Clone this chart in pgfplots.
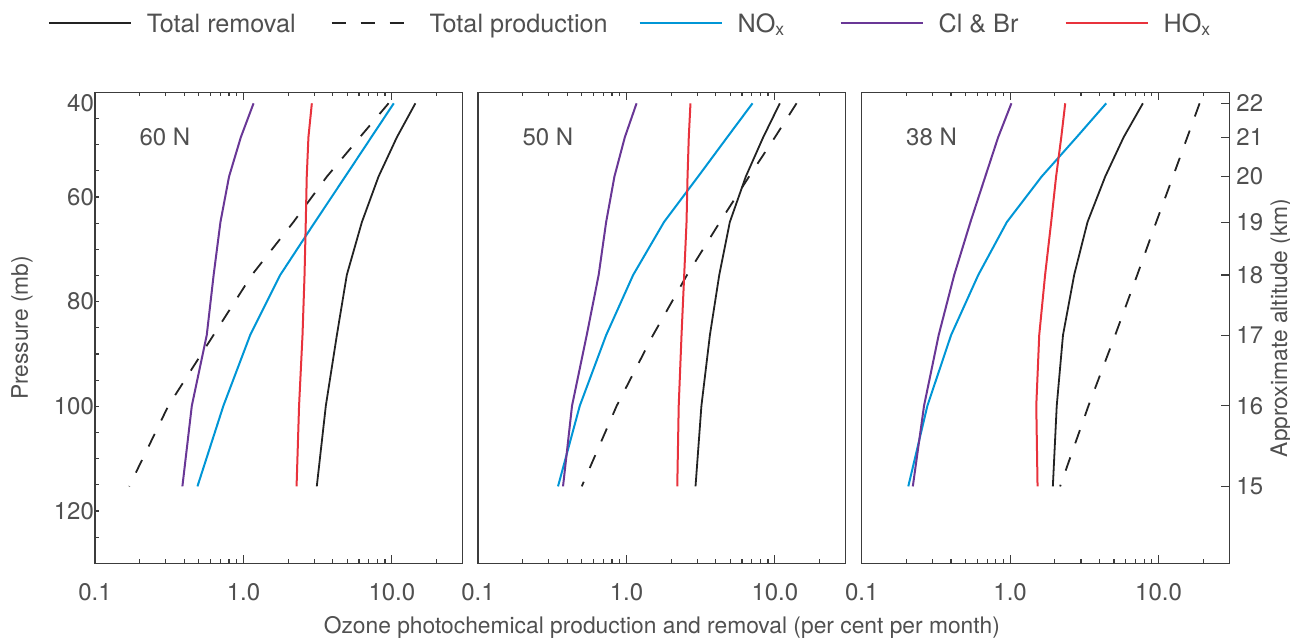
\documentclass[border=0pt]{standalone}
\usepackage{fontspec}
\setmainfont{TeX Gyre Heros}
\usepackage{pgfplots}
\usepackage{pgfplotstable}
\pgfplotsset{compat=1.18}
\pgfkeys{/pgf/number format/assume math mode=true}
\definecolor{txt}{RGB}{80,80,80}
\definecolor{frm}{RGB}{60,60,60}
\definecolor{cblue}{RGB}{0,150,214}
\definecolor{cpurple}{RGB}{105,55,150}
\definecolor{cred}{RGB}{232,50,60}
\definecolor{cblack}{RGB}{35,35,35}
\newcommand\fs{\fontsize{12}{14.4}\selectfont}
\newcommand\fl{\fontsize{11.4}{13.7}\selectfont}
\newcommand\fg{\fontsize{12.6}{15}\selectfont}

% p in mb; levels ~ 22,21,...,15 km
\pgfplotstableread{
p     rem   prod   nox    clbr   hox
42.1  14.4  9.5    10.3   1.17   2.89
48.6  10.8  6.08   7.26   0.96   2.74
56.1  8.13  3.65   4.85   0.80   2.67
64.8  6.28  2.17   3.03   0.70   2.63
74.9  4.97  1.14   1.77   0.63   2.58
86.4  4.26  0.628  1.11   0.566  2.50
99.9  3.59  0.312  0.733  0.449  2.37
115.3 3.12  0.170  0.49   0.388  2.28
}\sixty
\pgfplotstableread{
p     rem   prod   nox    clbr   hox
42.1  10.8  14.0   7.07   1.17   2.70
48.6  8.34  10.0   4.77   0.975  2.63
56.1  6.37  6.7    3.04   0.83   2.58
64.8  4.97  4.26   1.79   0.73   2.54
74.9  4.22  2.56   1.11   0.65   2.45
86.4  3.65  1.51   0.73   0.54   2.35
99.9  3.20  0.86   0.485  0.43   2.25
115.3 2.92  0.50   0.346  0.374  2.20
}\fifty
\pgfplotstableread{
p     rem   prod   nox    clbr   hox
42.1  7.84  18.9   4.44   1.02   2.35
48.6  5.81  15.6   2.80   0.83   2.21
56.1  4.37  12.5   1.63   0.68   2.04
64.8  3.32  9.64   0.95   0.54   1.89
74.9  2.70  7.18   0.61   0.42   1.72
86.4  2.27  5.10   0.40   0.33   1.57
99.9  2.06  3.37   0.277  0.263  1.50
115.3 1.94  2.17   0.206  0.221  1.53
}\thirtyeight

\tikzset{
  lrem/.style={draw=cblack, line width=0.9pt},
  lprod/.style={draw=cblack, line width=0.9pt, dash pattern=on 7pt off 7.5pt},
  lnox/.style={draw=cblue, line width=1pt},
  lclbr/.style={draw=cpurple, line width=1pt},
  lhox/.style={draw=cred, line width=1pt},
}

\begin{document}
\begin{tikzpicture}
\path[use as bounding box] (0,0) rectangle (645pt,319pt);

% ---- 60 N ----
\begin{semilogxaxis}[
  scale only axis, width=183.85pt, height=235.5pt,
  xmin=0.1, xmax=30, ymin=40, ymax=130, y dir=reverse,
  xtick={0.1,1,10}, xticklabels={0.1,1.0,10.0},
  minor xtick={0.2,0.3,0.4,0.5,0.6,0.7,0.8,0.9,2,3,4,5,6,7,8,9,20,30},
  tick align=inside, major tick length=4pt, minor tick length=2pt,
  axis line style={frm, line width=0.7pt},
  tick style={frm, line width=0.6pt},
  tick label style={font=\fs, text=txt},
  xticklabel style={yshift=-6.6pt},
  label style={font=\fl, text=txt},
  at={(47.5pt,37.35pt)}, anchor=south west,
  ytick={60,80,100,120}, minor ytick={45,50,...,125}, ytick pos=left,
  major y tick style={draw=none},
  extra y ticks={42.1}, extra y tick labels={40},
  yticklabel style={xshift=3pt},
  ylabel={Pressure (mb)},
  ylabel style={at={(axis description cs:0,0.5)}, anchor=center, yshift=36.5pt},
  legend columns=5,
  legend style={at={(axis description cs:-0.1278,1.147)}, anchor=west,
    draw=none, fill=none, inner sep=0pt, outer sep=0pt,
    font=\fg, text=txt, column sep=0pt,
    nodes={inner sep=0pt},
    /tikz/every odd column/.append style={column sep=7.5pt}},
  legend cell align=left,
  legend image code/.code={\draw[#1] (0pt,0pt) -- (41pt,0pt);},
]
\addplot[lrem] table[x=rem,y=p]{\sixty};
\addlegendentry{\makebox[92pt][l]{\strut Total removal}}
\addplot[lprod] table[x=prod,y=p]{\sixty};
\addlegendentry{\makebox[104.5pt][l]{\strut Total production}}
\addplot[lnox] table[x=nox,y=p]{\sixty};
\addlegendentry{\makebox[51pt][l]{\strut NO\textsubscript{x}}}
\addplot[lclbr] table[x=clbr,y=p]{\sixty};
\addlegendentry{\makebox[63pt][l]{\strut Cl \& Br}}
\addplot[lhox] table[x=hox,y=p]{\sixty};
\addlegendentry{\strut HO\textsubscript{x}}
\node[font=\fs, text=txt] at (axis description cs:0.19,0.906) {60 N};
\end{semilogxaxis}

% ---- 50 N ----
\begin{semilogxaxis}[
  scale only axis, width=183.85pt, height=235.5pt,
  xmin=0.1, xmax=30, ymin=40, ymax=130, y dir=reverse,
  xtick={0.1,1,10}, xticklabels={0.1,1.0,10.0},
  minor xtick={0.2,0.3,0.4,0.5,0.6,0.7,0.8,0.9,2,3,4,5,6,7,8,9,20,30},
  tick align=inside, major tick length=4pt, minor tick length=2pt,
  axis line style={frm, line width=0.7pt},
  tick style={frm, line width=0.6pt},
  tick label style={font=\fs, text=txt},
  xticklabel style={yshift=-6.6pt},
  label style={font=\fl, text=txt},
  at={(239pt,37.35pt)}, anchor=south west,
  ytick=\empty,
  xlabel={Ozone photochemical production and removal (per cent per month)},
  xlabel style={at={(axis description cs:0.5,0)}, anchor=center, yshift=-31.85pt},
]
\addplot[lrem] table[x=rem,y=p]{\fifty};
\addplot[lprod] table[x=prod,y=p]{\fifty};
\addplot[lnox] table[x=nox,y=p]{\fifty};
\addplot[lclbr] table[x=clbr,y=p]{\fifty};
\addplot[lhox] table[x=hox,y=p]{\fifty};
\node[font=\fs, text=txt] at (axis description cs:0.19,0.906) {50 N};
\end{semilogxaxis}

% ---- 38 N ----
\begin{semilogxaxis}[
  scale only axis, width=183.85pt, height=235.5pt,
  xmin=0.1, xmax=30, ymin=40, ymax=130, y dir=reverse,
  xtick={0.1,1,10}, xticklabels={0.1,1.0,10.0},
  minor xtick={0.2,0.3,0.4,0.5,0.6,0.7,0.8,0.9,2,3,4,5,6,7,8,9,20,30},
  tick align=inside, major tick length=4pt, minor tick length=2pt,
  axis line style={frm, line width=0.7pt},
  tick style={frm, line width=0.6pt},
  tick label style={font=\fs, text=txt},
  xticklabel style={yshift=-6.6pt},
  label style={font=\fl, text=txt},
  at={(430.85pt,37.35pt)}, anchor=south west,
  ytick={42.1,48.6,56.1,64.8,74.9,86.4,99.9,115.3},
  yticklabels={22,21,20,19,18,17,16,15},
  ytick pos=right, yticklabel pos=right,
  ylabel={Approximate altitude (km)},
  ylabel style={at={(axis description cs:1,0.5)}, anchor=center, yshift=-26pt},
]
\addplot[lrem] table[x=rem,y=p]{\thirtyeight};
\addplot[lprod] table[x=prod,y=p]{\thirtyeight};
\addplot[lnox] table[x=nox,y=p]{\thirtyeight};
\addplot[lclbr] table[x=clbr,y=p]{\thirtyeight};
\addplot[lhox] table[x=hox,y=p]{\thirtyeight};
\node[font=\fs, text=txt] at (axis description cs:0.19,0.906) {38 N};
\end{semilogxaxis}
\end{tikzpicture}
\end{document}
